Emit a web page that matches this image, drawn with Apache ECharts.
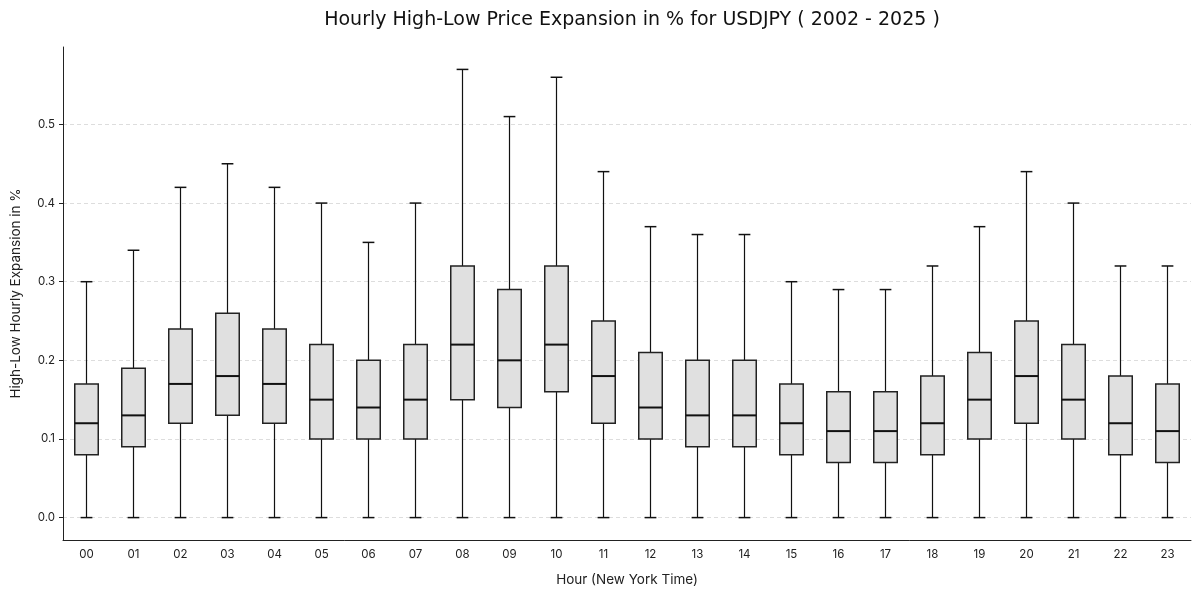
<!DOCTYPE html>
<html>
<head>
<meta charset="utf-8">
<script src="https://cdn.jsdelivr.net/npm/echarts@6/dist/echarts.min.js"></script>
<style>html,body{margin:0;padding:0;background:#fff}#c{width:1200px;height:596px}</style>
</head>
<body>
<div id="c"></div>
<script>
var hours = ['00','01','02','03','04','05','06','07','08','09','10','11','12','13','14','15','16','17','18','19','20','21','22','23'];
var whiskerLow = [0,0,0,0,0,0,0,0,0,0,0,0,0,0,0,0,0,0,0,0,0,0,0,0];
var q1 =     [0.08,0.09,0.12,0.13,0.12,0.10,0.10,0.10,0.15,0.14,0.16,0.12,0.10,0.09,0.09,0.08,0.07,0.07,0.08,0.10,0.12,0.10,0.08,0.07];
var median = [0.12,0.13,0.17,0.18,0.17,0.15,0.14,0.15,0.22,0.20,0.22,0.18,0.14,0.13,0.13,0.12,0.11,0.11,0.12,0.15,0.18,0.15,0.12,0.11];
var q3 =     [0.17,0.19,0.24,0.26,0.24,0.22,0.20,0.22,0.32,0.29,0.32,0.25,0.21,0.20,0.20,0.17,0.16,0.16,0.18,0.21,0.25,0.22,0.18,0.17];
var whiskerHigh = [0.30,0.34,0.42,0.45,0.42,0.40,0.35,0.40,0.57,0.51,0.56,0.44,0.37,0.36,0.36,0.30,0.29,0.29,0.32,0.37,0.44,0.40,0.32,0.32];
var yTicks = [0.0,0.1,0.2,0.3,0.4,0.5];

var data = hours.map(function(h,i){ return [i, whiskerLow[i], q1[i], median[i], q3[i], whiskerHigh[i]]; });
var font = 'Inter, Lato, sans-serif';

var chart = echarts.init(document.getElementById('c'), null, {renderer:'canvas'});
chart.setOption({
  animation:false,
  backgroundColor:'#fff',
  title:{
    text:'Hourly High-Low Price Expansion in % for USDJPY ( 2002 - 2025 )',
    left:627, top:6, textAlign:'center',
    textStyle:{fontFamily:'DejaVu Sans', fontSize:19, fontWeight:'normal', color:'#111'}
  },
  grid:{left:63, right:9, top:47, bottom:56, outerBoundsMode:'none', containLabel:false},
  xAxis:{
    type:'category', data:hours, boundaryGap:true,
    name:'Hour (New York Time)', nameLocation:'middle', nameGap:33,
    nameTextStyle:{fontFamily:font, fontSize:13.5, color:'#222'},
    axisLine:{onZero:false, lineStyle:{color:'#222', width:1}},
    axisTick:{alignWithLabel:true, length:4, lineStyle:{color:'#222'}},
    axisLabel:{fontFamily:font, fontSize:11.5, color:'#222', margin:9},
    splitLine:{show:false}
  },
  yAxis:{
    type:'value', min:-0.0285, max:0.5985,
    name:'High-Low Hourly Expansion in %', nameLocation:'middle', nameGap:40,
    nameTextStyle:{fontFamily:font, fontSize:13.5, color:'#222'},
    axisLine:{show:true, onZero:false, lineStyle:{color:'#222', width:1}},
    axisTick:{show:true, length:4, customValues:yTicks, lineStyle:{color:'#222'}},
    axisLabel:{fontFamily:font, fontSize:11.5, color:'#222', margin:8, customValues:yTicks,
      formatter:function(v){return v.toFixed(1);}},
    splitLine:{show:true, lineStyle:{color:'#dddddd', type:[4,3], width:1}}
  },
  series:[{
    type:'custom',
    data:data,
    encode:{x:0, y:[1,2,3,4,5]},
    renderItem:function(params, api){
      var x = api.value(0);
      var pLo = api.coord([x, api.value(1)]);
      var pQ1 = api.coord([x, api.value(2)]);
      var pMed = api.coord([x, api.value(3)]);
      var pQ3 = api.coord([x, api.value(4)]);
      var pHi = api.coord([x, api.value(5)]);
      var band = api.size([1,0])[0];
      var bw = band*0.5, cw = band*0.25;
      var cx = pLo[0];
      var wStyle = {stroke:'#111', lineWidth:1.2};
      return {type:'group', children:[
        {type:'line', shape:{x1:cx,y1:pLo[1],x2:cx,y2:pQ1[1]}, style:wStyle},
        {type:'line', shape:{x1:cx,y1:pQ3[1],x2:cx,y2:pHi[1]}, style:wStyle},
        {type:'line', shape:{x1:cx-cw/2,y1:pLo[1],x2:cx+cw/2,y2:pLo[1]}, style:{stroke:'#111', lineWidth:1.5}},
        {type:'line', shape:{x1:cx-cw/2,y1:pHi[1],x2:cx+cw/2,y2:pHi[1]}, style:{stroke:'#111', lineWidth:1.5}},
        {type:'rect', shape:{x:cx-bw/2, y:pQ3[1], width:bw, height:pQ1[1]-pQ3[1]}, style:{fill:'#e0e0e0', stroke:'#222', lineWidth:1.5}},
        {type:'line', shape:{x1:cx-bw/2,y1:pMed[1],x2:cx+bw/2,y2:pMed[1]}, style:{stroke:'#111', lineWidth:2}}
      ]};
    }
  }]
});
</script>
</body>
</html>
